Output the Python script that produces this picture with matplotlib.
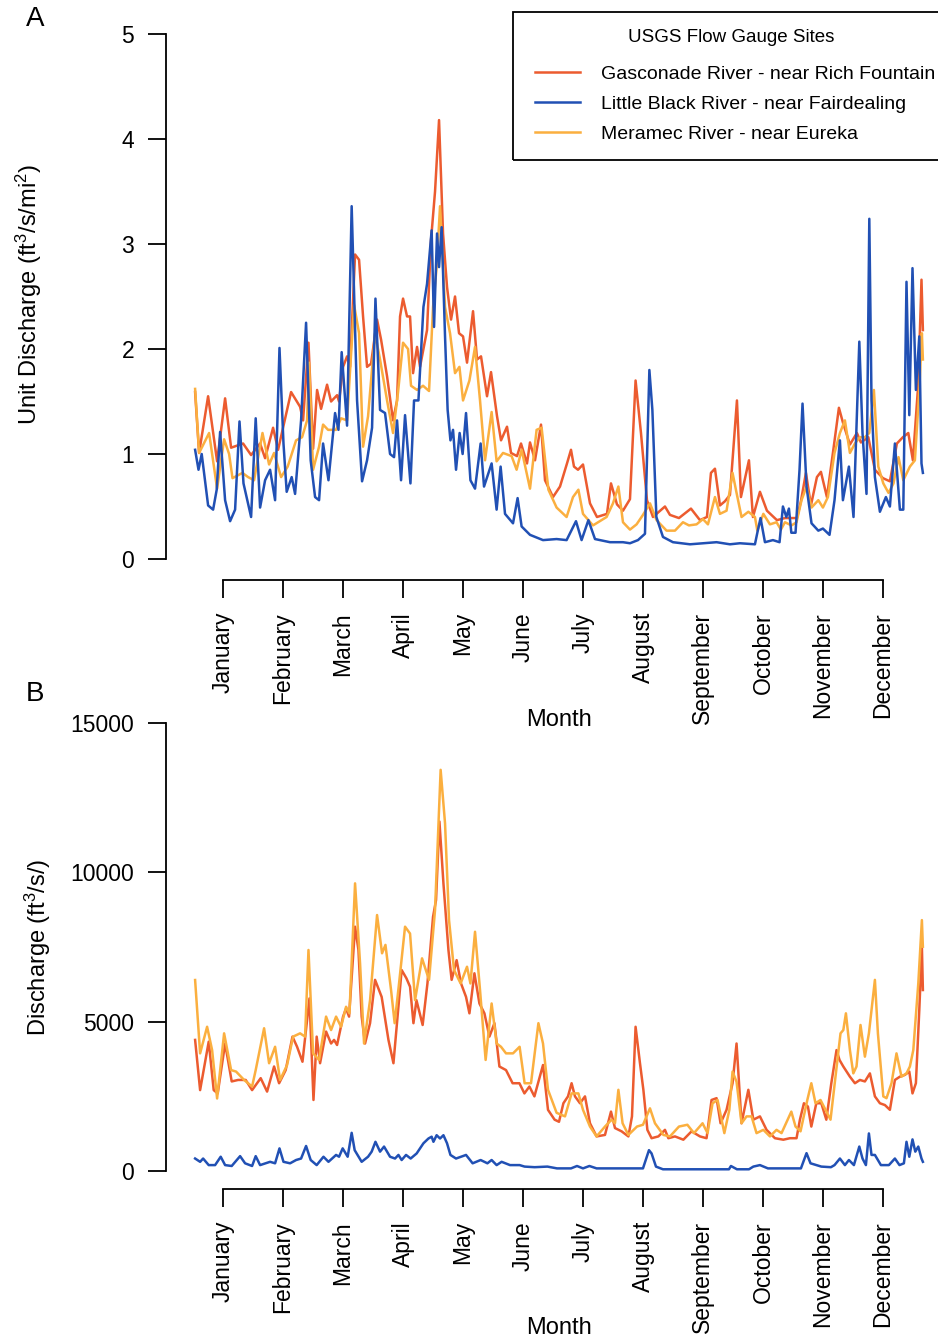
import matplotlib
matplotlib.use("Agg")
import matplotlib.pyplot as plt
from matplotlib.lines import Line2D
from matplotlib.patches import Rectangle

plt.rcParams['font.family'] = ['Liberation Sans', 'DejaVu Sans']
plt.rcParams['mathtext.fontset'] = 'custom'
plt.rcParams['mathtext.rm'] = 'Liberation Sans'
plt.rcParams['mathtext.default'] = 'rm'

# ---- data (day of year, value) ----
months = ['January', 'February', 'March', 'April', 'May', 'June', 'July',
          'August', 'September', 'October', 'November', 'December']
tick_days = [15, 45, 75, 105, 135, 165, 195, 225, 255, 285, 315, 345]

# A: unit discharge (ft3/s/mi2)
gas_a_day = [1, 3, 7.5, 12, 16, 19, 25, 29, 33.5, 36, 40, 42.5, 49, 53.5, 55, 57.7, 60, 62, 64, 67,
             69, 72, 73, 75, 77, 78.5, 81, 83, 85, 87, 89, 92, 94, 97, 100, 102, 103.5, 105, 107, 108.5,
             110, 112, 113.5, 117, 119, 121, 123, 125, 127, 129, 131, 133, 135, 137, 140, 142, 144, 147, 149, 152,
             154, 157, 159, 162, 164, 167, 168.5, 171, 174, 176, 180, 183.5, 187, 189, 190.5, 192.5, 195, 198.5, 202, 207,
             209, 212, 215, 218.5, 221.3, 224, 227, 230, 236, 238.5, 243, 249, 253.5, 257, 259, 261, 263.5, 266, 268.5, 272,
             274, 278, 280, 283.5, 287, 292, 296, 302, 304, 306.5, 309, 312, 314, 317, 320, 323, 325, 328.5, 332, 334,
             337.7, 341, 345, 348.5, 352, 355, 357.7, 360, 362.7, 364.3, 365]
gas_a = [1.59, 1.01, 1.55, 0.93, 1.53, 1.06, 1.10, 0.99, 1.10, 0.96, 1.25, 1.04, 1.59, 1.45, 1.32, 2.06, 1.05, 1.61, 1.43, 1.66,
         1.50, 1.56, 1.50, 1.83, 1.93, 1.83, 2.90, 2.85, 2.31, 1.83, 1.86, 2.28, 2.09, 1.74, 1.32, 1.51, 2.31, 2.48, 2.31, 2.31,
         1.77, 2.02, 1.83, 2.18, 3.04, 3.50, 4.18, 3.10, 2.59, 2.28, 2.50, 2.15, 2.12, 1.87, 2.36, 1.90, 1.93, 1.55, 1.78, 1.36,
         1.13, 1.26, 1.01, 0.98, 1.10, 0.91, 1.11, 0.94, 1.28, 0.75, 0.59, 0.69, 0.91, 1.04, 0.88, 0.85, 0.90, 0.53, 0.40, 0.43,
         0.72, 0.52, 0.46, 0.57, 1.70, 1.20, 0.56, 0.40, 0.50, 0.42, 0.39, 0.48, 0.37, 0.40, 0.82, 0.86, 0.51, 0.55, 0.61, 1.51,
         0.59, 0.94, 0.40, 0.64, 0.46, 0.37, 0.39, 0.39, 0.55, 0.82, 0.51, 0.78, 0.83, 0.59, 1.01, 1.44, 1.30, 1.09, 1.20, 1.11,
         1.16, 0.85, 0.77, 0.74, 1.10, 1.16, 1.20, 0.94, 1.67, 2.66, 2.18]

lb_a_day = [1, 2.7, 4.3, 7.5, 10, 11.8, 13.5, 16, 18.5, 21, 23.2, 25.2, 29, 31.3, 33.5, 36, 38.5, 41, 43.2, 45.2,
            46.8, 49.3, 51, 54, 56.5, 58.8, 61, 63, 65, 67.7, 71, 72.7, 74.3, 77, 79.3, 82, 84.5, 87, 89.5, 91.2,
            93.5, 96, 98.5, 100.5, 102, 104, 106, 108.7, 110.5, 112.7, 115.2, 117, 119.3, 120.5, 122, 123, 124.3, 126, 127.3, 128.7,
            130, 131.5, 133.3, 134.8, 136.5, 138.7, 141, 143.8, 145.5, 149.3, 151.8, 153.8, 156, 160, 162.3, 164.3, 168.5, 175, 181.8, 186.8,
            191.5, 194.3, 197.7, 201, 208.5, 215, 218.5, 222.5, 226, 228.2, 229.7, 231.7, 235, 240, 248.5, 255, 261.8, 268.5, 273.5, 281,
            282.2, 283.8, 286, 290, 293.3, 295, 296.7, 298, 299.2, 301.3, 303.3, 304.8, 306.8, 309.3, 312.7, 315, 318.3, 320.8, 323.5, 325,
            328, 330.3, 331.7, 333.2, 334.8, 336.8, 338.2, 339.3, 341, 343.5, 346.5, 348.5, 351, 353.5, 355.2, 356.8, 358.2, 359.8, 361.5, 363.2,
            364.3, 365]
lb_a = [1.04, 0.85, 1.00, 0.51, 0.47, 0.66, 1.21, 0.56, 0.36, 0.47, 1.31, 0.72, 0.40, 1.34, 0.49, 0.75, 0.85, 0.56, 2.01, 1.10,
        0.64, 0.78, 0.62, 1.32, 2.25, 0.94, 0.59, 0.56, 1.10, 0.75, 1.39, 1.23, 1.97, 1.27, 3.36, 1.51, 0.74, 0.94, 1.25, 2.48,
        1.42, 1.39, 1.00, 0.97, 1.32, 0.75, 1.37, 0.72, 1.51, 1.51, 2.40, 2.62, 3.13, 2.21, 3.10, 2.78, 3.16, 2.12, 1.42, 1.13,
        1.23, 0.85, 1.20, 1.00, 1.39, 0.75, 0.67, 1.10, 0.69, 0.91, 0.47, 0.88, 0.43, 0.34, 0.58, 0.31, 0.23, 0.18, 0.19, 0.18,
        0.36, 0.18, 0.37, 0.19, 0.16, 0.16, 0.15, 0.18, 0.24, 1.80, 1.42, 0.40, 0.21, 0.16, 0.14, 0.15, 0.16, 0.14, 0.15, 0.14,
        0.25, 0.39, 0.16, 0.18, 0.16, 0.50, 0.40, 0.48, 0.25, 0.25, 0.85, 1.48, 0.69, 0.34, 0.27, 0.29, 0.23, 0.56, 1.13, 0.56,
        0.88, 0.40, 1.20, 2.07, 1.20, 0.62, 3.24, 1.51, 0.78, 0.45, 0.59, 0.50, 1.10, 0.47, 0.47, 2.64, 1.37, 2.77, 1.61, 2.12,
        0.91, 0.82]

mer_a_day = [1, 3, 8, 12, 15.5, 18, 19.7, 24.7, 27.5, 30.5, 34.7, 38, 40.5, 44, 47.3, 51.5, 54.5, 57, 58, 60,
             63, 65, 67.5, 71.5, 74, 77, 80.5, 83, 85, 87.5, 91, 93.5, 97, 100, 102.5, 105, 107.5, 109, 112, 115,
             118, 120, 121.8, 123.5, 126, 128.5, 131, 133.2, 135, 138.2, 141, 143.5, 146, 149.3, 151.8, 155, 159.3, 161.8, 164.3, 168.5,
             171.8, 174.3, 177.7, 181.8, 186.8, 190, 192.7, 195, 200, 206.8, 210, 212.7, 215, 218.5, 221.8, 225, 228.5, 231.8, 236.8, 241,
             245, 248, 251.8, 255, 257.5, 261, 263.5, 266.8, 269.8, 271.8, 274.3, 277.7, 281, 282.2, 285.2, 288.5, 291.8, 294, 296, 299.3,
             301.8, 304.3, 306.8, 309.3, 312.7, 315, 317.5, 320.8, 323.5, 326, 328.5, 331, 333.5, 336, 338.2, 340.5, 342.7, 345.2, 347.8, 350.3,
             352.8, 355.2, 358.5, 361, 363.2, 364.5, 365]
mer_a = [1.62, 1.01, 1.20, 0.67, 1.14, 1.00, 0.77, 0.82, 0.78, 0.75, 1.20, 0.90, 1.01, 0.78, 0.88, 1.13, 1.16, 1.32, 1.87, 0.85,
         1.07, 1.28, 1.23, 1.23, 1.34, 1.32, 2.42, 2.15, 1.07, 1.36, 2.15, 1.90, 1.51, 1.20, 1.59, 2.06, 2.00, 1.65, 1.61, 1.65,
         1.60, 2.40, 2.78, 3.36, 2.40, 2.15, 1.77, 1.83, 1.51, 1.70, 2.02, 1.51, 0.94, 1.40, 0.93, 1.01, 0.98, 0.85, 1.04, 0.67,
         1.23, 1.25, 0.66, 0.49, 0.40, 0.59, 0.66, 0.43, 0.32, 0.40, 0.53, 0.69, 0.35, 0.28, 0.33, 0.42, 0.53, 0.37, 0.27, 0.27,
         0.35, 0.32, 0.33, 0.38, 0.33, 0.59, 0.43, 0.46, 0.82, 0.63, 0.40, 0.45, 0.40, 0.27, 0.43, 0.33, 0.35, 0.28, 0.35, 0.32,
         0.35, 0.56, 0.69, 0.49, 0.56, 0.49, 0.59, 1.01, 1.20, 1.32, 1.01, 1.10, 1.16, 1.16, 1.20, 1.61, 0.88, 0.72, 0.63, 0.72,
         0.97, 0.75, 0.88, 0.94, 1.61, 2.15, 1.90]

# B: discharge (ft3/s)
gas_b_day = [1, 3.5, 7.8, 10.3, 12.3, 16, 19.3, 22.5, 26.3, 29.5, 33.8, 37, 40.5, 43, 46.3, 49.7, 52, 54.7, 58.2, 60.2,
             61.8, 63.5, 66.5, 69, 70.5, 72, 75, 76.5, 78, 81, 82.7, 84.3, 86, 88.5, 91, 94.3, 97.7, 100.2, 104.3, 106.7,
             108.5, 110.2, 111.7, 114.8, 117.2, 120, 121.5, 123.2, 125.2, 127.7, 129.3, 131.8, 134, 136.5, 138.2, 140.7, 143.2, 145.7, 148.2, 150.7,
             153.2, 156.5, 159.8, 163.2, 165.7, 168.2, 170.7, 175, 177.5, 180.8, 183, 185.2, 187.5, 189.3, 191, 193.5, 196, 198.5, 201.8, 206,
             209, 211, 214.3, 217.7, 219.5, 221.3, 223.5, 225.2, 227.2, 229.3, 232.7, 236, 237.7, 241, 245.2, 249.3, 253.5, 256.8, 259.3, 261.8,
             263.8, 266.8, 269.8, 271.8, 274.3, 277.7, 280.2, 283.5, 286.8, 291, 295.2, 298.5, 301.8, 303.5, 305.5, 307.5, 309.2, 311.7, 314.2, 316.7,
             319.2, 321.8, 323.3, 325.2, 328.5, 331, 333.5, 336, 338.5, 341, 343.5, 346, 348.5, 351, 353.5, 356, 358.2, 359.8, 361.5, 363.2,
             364.5, 365]
gas_b = [4390, 2710, 4330, 2710, 2600, 4270, 3000, 3050, 3050, 2710, 3110, 2660, 3500, 2940, 3380, 4500, 4160, 3660, 5780, 2380,
         4500, 3610, 4670, 4270, 4390, 4220, 5170, 5440, 5170, 8180, 7400, 5170, 4270, 4950, 6400, 5830, 4390, 3610, 6730, 6450,
         6170, 4950, 5720, 4890, 6280, 8510, 9070, 11700, 9630, 7400, 6400, 7060, 6280, 5830, 5280, 6620, 5610, 5280, 4500, 4950,
         3500, 3380, 2940, 2940, 2600, 2830, 2500, 3550, 2050, 1720, 1650, 2270, 2500, 2940, 2500, 2270, 2500, 1600, 1160, 1210,
         1990, 1440, 1330, 1160, 1830, 4830, 3610, 2720, 1380, 1100, 1160, 1380, 1100, 1160, 1050, 1330, 1160, 1100, 2380, 2440,
         1600, 2050, 2940, 4270, 1600, 2720, 1720, 1830, 1380, 1100, 1050, 1100, 1100, 1720, 2270, 2160, 1490, 2270, 2270, 1720,
         2940, 4050, 3720, 3500, 3160, 2940, 3050, 3000, 3270, 2500, 2270, 2210, 2050, 3050, 3160, 3220, 3330, 2600, 2940, 5390,
         7510, 6060]

lb_b_day = [1, 3.5, 5, 7.8, 11, 13.8, 16, 19.3, 23.5, 26, 29.5, 31.3, 33.5, 38.5, 41, 43.2, 45.2, 48.5, 51.5, 54,
            56.5, 58.8, 61.8, 65.2, 67.7, 71.5, 73, 74.8, 77.3, 79.3, 80.8, 84.3, 87.5, 89.3, 91.2, 93.5, 95.5, 98.5, 101, 102.7,
            104.3, 106.5, 108.8, 111.8, 115.2, 117.7, 119.3, 120.2, 121.8, 123.5, 125.2, 127, 128.7, 131.5, 134, 136.5, 139.8, 143.8, 147.2, 149.3,
            151.8, 154.3, 158.5, 163.3, 165.8, 170.8, 177.2, 182, 189, 192, 195, 198.2, 201.8, 225, 228, 229.3, 231.5, 235, 268, 269,
            272, 278, 280.2, 283.5, 287.5, 304, 306.8, 308.8, 314.2, 319, 320.8, 323.5, 326, 328, 330.5, 333.2, 334.8, 336.5, 338, 339.3,
            341, 344, 348, 351, 353.3, 355.5, 356.8, 358.2, 359.8, 361.2, 362.7, 364.3, 365]
lb_b = [420, 310, 420, 200, 200, 480, 200, 170, 500, 260, 170, 500, 200, 310, 260, 760, 310, 260, 370, 420,
        840, 370, 200, 480, 310, 540, 480, 760, 480, 1280, 700, 310, 480, 650, 980, 650, 820, 480, 420, 540,
        370, 540, 420, 590, 930, 1090, 1150, 980, 1200, 1090, 1200, 930, 540, 420, 480, 540, 260, 370, 260, 370,
        200, 310, 200, 200, 150, 130, 150, 90, 90, 170, 90, 170, 90, 90, 700, 590, 150, 60, 60, 170,
        60, 60, 150, 200, 90, 90, 600, 260, 150, 130, 200, 420, 200, 370, 200, 820, 420, 200, 1260, 540,
        540, 200, 200, 420, 200, 260, 980, 480, 1060, 650, 820, 420, 310]

mer_b_day = [1, 3.5, 7, 9.5, 12, 15.5, 19, 21.5, 25.5, 29.5, 31.3, 35.5, 38, 41, 43.5, 47, 50, 53.5, 56, 57.7,
             60, 63, 66.5, 69, 71.5, 74, 76.5, 78.2, 81, 83.5, 85.5, 88.5, 92, 94.5, 96.2, 99, 100.8, 103, 106, 108.5,
             111, 114.5, 118, 121, 123.8, 126, 128, 130.5, 133.8, 137, 138.7, 141, 143.5, 146.3, 149.3, 151.8, 154, 156.5, 160, 163.3,
             165.8, 169, 172.7, 175, 177.5, 181.8, 186, 189.3, 192.7, 195, 198.5, 201.8, 206, 209.3, 211, 212.7, 214.8, 217.7, 222, 225,
             228.5, 231, 235.2, 238.5, 243, 247.2, 250.5, 254.8, 257.3, 259.8, 262.3, 265.7, 268.2, 269.8, 271.8, 274.3, 276.8, 279.3, 281.8, 285.2,
             288.5, 291.8, 294.3, 299.2, 301.3, 303.8, 307.2, 309.2, 311.3, 313.8, 316.3, 318.8, 321.3, 323.8, 325.2, 326.5, 328.5, 330.2, 331.8, 333.8,
             336, 338, 341, 342.5, 345.2, 346.8, 349.3, 351.8, 354.3, 356.8, 358.5, 360.2, 362.7, 364.5, 365]
mer_b = [6395, 3940, 4830, 4050, 2430, 4610, 3380, 3330, 3050, 2830, 3380, 4780, 3610, 4160, 3050, 3550, 4500, 4610, 4500, 7400,
         3940, 3720, 5170, 4720, 5170, 4830, 5500, 5280, 9630, 6950, 4270, 5720, 8570, 7290, 7570, 6060, 4950, 6280, 8180, 7950,
         5720, 7120, 6400, 8740, 13430, 11640, 8400, 6730, 6280, 6840, 6280, 8010, 6060, 3720, 5610, 4270, 4160, 3940, 3940, 4160,
         2940, 2940, 4950, 4270, 2720, 1950, 1830, 2600, 2600, 2050, 1490, 1160, 1490, 1720, 1600, 2720, 1600, 1210, 1490, 1550,
         2100, 1600, 1210, 1160, 1490, 1550, 1270, 1600, 1270, 2270, 2380, 1270, 2050, 3330, 2990, 1600, 1830, 1830, 1270, 1380,
         1160, 1380, 1270, 1990, 1490, 1330, 2380, 2940, 2270, 2380, 2050, 1720, 3160, 4610, 4720, 5280, 4050, 3270, 3500, 4890,
         3830, 4610, 6400, 4610, 2500, 2440, 2940, 3940, 3160, 3270, 3500, 4050, 6280, 8400, 7510]

c_gas = '#EC5B2F'
c_lb = '#2150B4'
c_mer = '#FBAF3F'
lw = 1.8

W, H = 938, 1341
fig = plt.figure(figsize=(W / 100, H / 100), dpi=100)
fig.patch.set_facecolor('white')

def fx(x):
    return x / W

def fy(y):
    return 1 - y / H

ax_a = fig.add_axes([fx(166), fy(580), 786 / W, 567 / H])
ax_b = fig.add_axes([fx(166), fy(1189), 786 / W, 484 / H])


def style(ax, ymax, yticks, ylabels):
    ax.set_xlim(-13.56, 379.56)
    ax.set_ylim(-0.04 * ymax, 1.04 * ymax)
    ax.spines['top'].set_visible(False)
    ax.spines['right'].set_visible(False)
    ax.spines['left'].set_bounds(0, ymax)
    ax.spines['bottom'].set_bounds(tick_days[0], tick_days[-1])
    for s in ['left', 'bottom']:
        ax.spines[s].set_linewidth(1.3)
    ax.set_xticks(tick_days)
    ax.set_xticklabels(months, rotation=90)
    ax.set_yticks(yticks)
    ax.set_yticklabels(ylabels)
    ax.tick_params(direction='out', length=13, width=1.3, pad=10, labelsize=16.5)
    ax.patch.set_alpha(0)


# panel A
ax_a.plot(gas_a_day, gas_a, color=c_gas, lw=lw)
ax_a.plot(mer_a_day, mer_a, color=c_mer, lw=lw)
ax_a.plot(lb_a_day, lb_a, color=c_lb, lw=lw)
style(ax_a, 5, [0, 1, 2, 3, 4, 5], ['0', '1', '2', '3', '4', '5'])

# panel B
ax_b.plot(gas_b_day, gas_b, color=c_gas, lw=lw)
ax_b.plot(mer_b_day, mer_b, color=c_mer, lw=lw)
ax_b.plot(lb_b_day, lb_b, color=c_lb, lw=lw)
style(ax_b, 15000, [0, 5000, 10000, 15000], ['0', '5000', '10000', '15000'])

ax_a.set_ylabel('Unit Discharge (ft$^{3}$/s/mi$^{2}$)', fontsize=17)
ax_a.yaxis.set_label_coords(-0.155, 0.504)
ax_b.set_ylabel('Discharge (ft$^{3}$/s/)', fontsize=17)
ax_b.yaxis.set_label_coords(-0.144, 0.5)
ax_a.set_xlabel('Month', fontsize=17)
ax_a.xaxis.set_label_coords(0.5, -0.228)
ax_b.set_xlabel('Month', fontsize=17)
ax_b.xaxis.set_label_coords(0.5, -0.265)

fig.text(fx(35), fy(19), 'A', fontsize=20, ha='center', va='center')
fig.text(fx(35), fy(694), 'B', fontsize=20, ha='center', va='center')

# legend box (right side runs off the page like the original)
fig.patches.append(Rectangle((fx(513), fy(160)), 439 / W, 148 / H, transform=fig.transFigure,
                             fill=False, edgecolor='black', lw=1.3))
fig.text(fx(731), fy(38), 'USGS Flow Gauge Sites', fontsize=13.5, ha='center', va='center')
names = ['Gasconade River - near Rich Fountain', 'Little Black River - near Fairdealing',
         'Meramec River - near Eureka']
for i, (name, col) in enumerate(zip(names, [c_gas, c_lb, c_mer])):
    y = 72 + 30 * i
    fig.lines.append(Line2D([fx(535), fx(580)], [fy(y), fy(y)], transform=fig.transFigure, color=col, lw=lw))
    fig.text(fx(601), fy(y + 2.5), name, fontsize=14, ha='left', va='center')

fig.savefig('out.png', dpi=100)
